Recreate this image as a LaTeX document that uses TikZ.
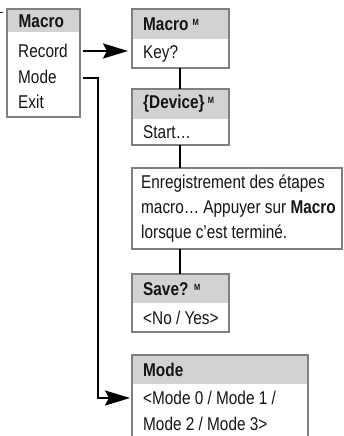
\documentclass[tikz,border=0pt]{standalone}
\usepackage{fontspec}
\setmainfont{Liberation Sans}[FakeStretch=0.83]
\usetikzlibrary{arrows.meta}
\definecolor{hdr}{HTML}{D2D2D2}
\definecolor{brd}{HTML}{808080}
\definecolor{txt}{HTML}{151515}
\newcommand{\supM}{\raisebox{5pt}{\fontsize{9}{9}\selectfont\bfseries M}}
\tikzset{
  box/.style={draw=brd, line width=1.1pt, anchor=north west, inner sep=0pt, outer sep=0pt},
  hd/.style={fill=hdr, anchor=north west, inner sep=0pt, outer sep=0pt},
  lbl/.style={anchor=west, inner sep=0pt, text=txt, font=\fontsize{18.5}{20}\selectfont},
  blbl/.style={lbl, font=\fontsize{18.5}{20}\selectfont\bfseries},
  link/.style={draw=black, line width=2.6pt},
  arr/.style={link, -{Stealth[length=25pt, width=15pt, inset=4pt]}},
}
\begin{document}
\begin{tikzpicture}[x=1pt, y=-1pt]
\path[use as bounding box, clip] (0,0) rectangle (343,436);
\fill[white] (0,0) rectangle (343,436);
% fragment at top-left
\draw[line width=1pt, txt] (0,13) -- (2.5,13);
% left menu
\node[hd, minimum width=73pt, minimum height=23pt] (mh) at (7,9) {};
\node[box, minimum width=73pt, minimum height=108pt] (menu) at (7,9) {};
\node[blbl] (tMacro) at (18.5,21) {Macro};
\node[lbl] (tRecord) at (18,51) {Record};
\node[lbl] (tMode) at (18,77) {Mode};
\node[lbl] (tExit) at (18,102) {Exit};
% box 1
\node[hd, minimum width=97pt, minimum height=30pt] (h1) at (132,9) {};
\node[box, minimum width=97pt, minimum height=59pt] (b1) at (132,9) {};
\node[blbl] (t1a) at (143,24) {Macro \supM};
\node[lbl] (t1b) at (143,54) {Key?};
% box 2
\node[hd, minimum width=97pt, minimum height=30pt] (h2) at (132,89) {};
\node[box, minimum width=97pt, minimum height=56pt] (b2) at (132,89) {};
\node[blbl] (t2a) at (143,104) {\{Device\}\,\supM};
\node[lbl] (t2b) at (143,132) {Start…};
% box 3
\node[box, minimum width=210pt, minimum height=81pt] (b3) at (132,168) {};
\node[lbl] (t3a) at (141,184) {Enregistrement des étapes};
\node[lbl] (t3b) at (141,209) {macro… Appuyer sur \textbf{Macro}};
\node[lbl] (t3c) at (141,234) {lorsque c'est terminé.};
% box 4
\node[hd, minimum width=97pt, minimum height=29pt] (h4) at (132,274) {};
\node[box, minimum width=97pt, minimum height=58pt] (b4) at (132,274) {};
\node[blbl] (t4a) at (143,289) {Save? \supM};
\node[lbl] (t4b) at (143,318) {<No / Yes>};
% box 5
\node[hd, minimum width=176pt, minimum height=29pt] (h5) at (132,355) {};
\node[box, minimum width=176pt, minimum height=100pt] (b5) at (132,355) {};
\node[blbl] (t5a) at (143,370) {Mode};
\node[lbl] (t5b) at (143,398) {<Mode 0 / Mode 1 /};
\node[lbl] (t5c) at (143,424) {Mode 2 / Mode 3>};
% connectors
\coordinate (rs) at (83,51);
\coordinate (ms) at (83,78);
\coordinate (mc) at (98,78);
\coordinate (cx) at (180,0);
\draw[arr] (rs) -- ([xshift=-4pt]rs -| b1.west);
\draw[link] (b1.south -| cx) -- (b2.north -| cx);
\draw[link] (b2.south -| cx) -- (b3.north -| cx);
\draw[link] (b3.south -| cx) -- (b4.north -| cx);
\draw[arr] (ms) -- (mc) -- (mc |- t5b.west) -- ([xshift=-2pt]t5b.west -| b5.west);
\end{tikzpicture}
\end{document}
